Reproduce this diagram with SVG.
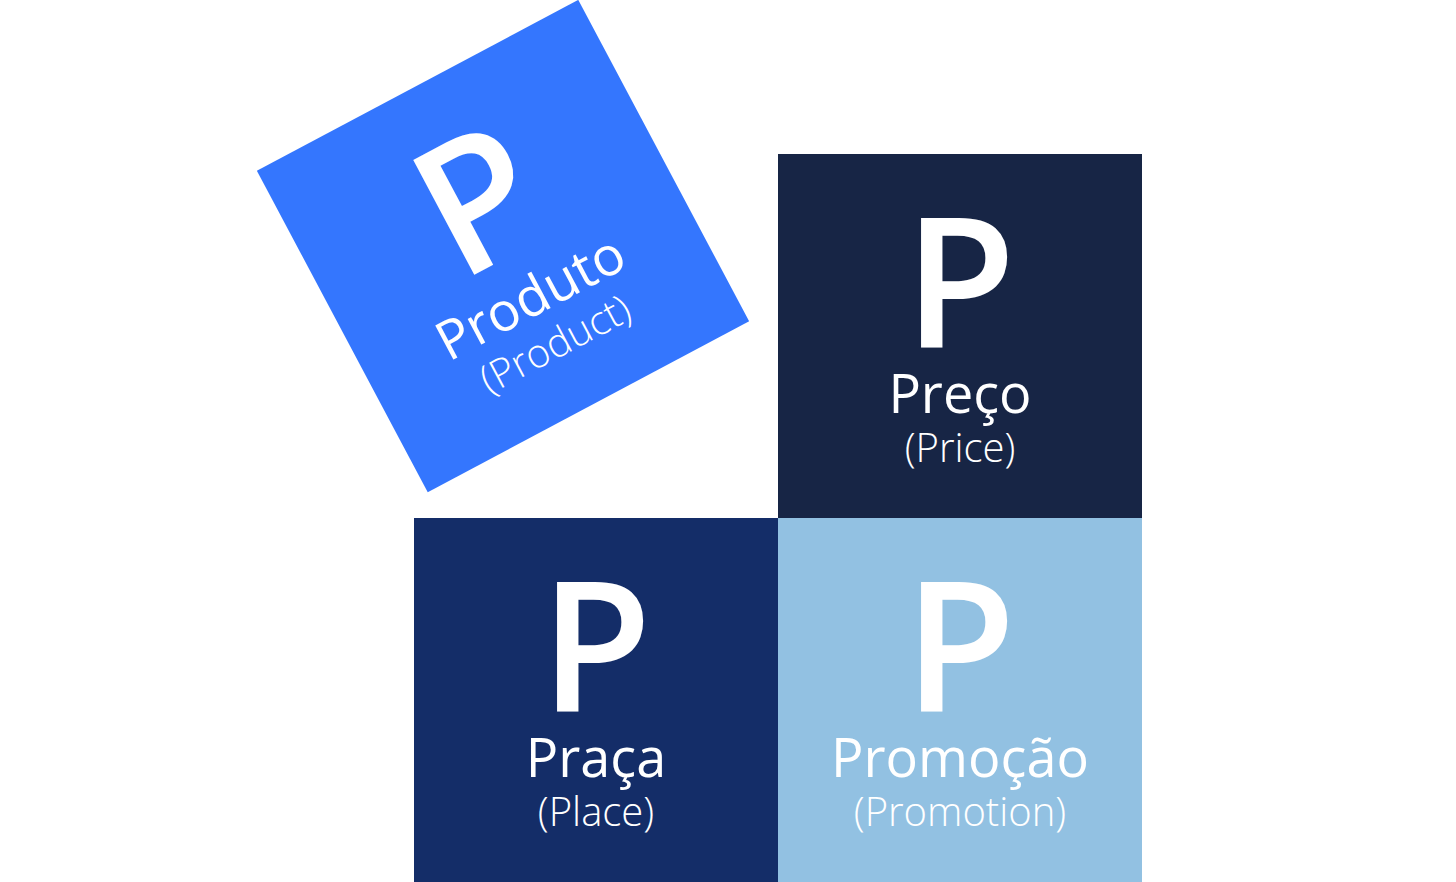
<svg xmlns="http://www.w3.org/2000/svg" width="1456" height="882" viewBox="0 0 1456 882">
<style>
text{font-family:"Open Sans","Noto Sans","Liberation Sans",sans-serif;fill:#ffffff;text-anchor:middle}
.big{font-size:182px;font-weight:600}
.name{font-size:54px;font-weight:500}
.en{font-size:40px;font-weight:300}
</style>
<rect width="1456" height="882" fill="#ffffff"/>
<g id="connectors"/>
<g id="produto" transform="translate(503,246) rotate(-28)">
<rect x="-182" y="-182" width="364" height="364" fill="#3476FE"/>
<text class="big" x="0" y="12">P</text>
<text class="name" x="0" y="77">Produto</text>
<text class="en" x="0" y="125">(Product)</text>
</g>
<g id="preco">
<rect x="778" y="154" width="364" height="364" fill="#172545"/>
<text class="big" x="960" y="348">P</text>
<text class="name" x="960" y="413">Preço</text>
<text class="en" x="960" y="462">(Price)</text>
</g>
<g id="praca">
<rect x="414" y="518" width="364" height="364" fill="#142D68"/>
<text class="big" x="596" y="712">P</text>
<text class="name" x="596" y="777">Praça</text>
<text class="en" x="596" y="826">(Place)</text>
</g>
<g id="promocao">
<rect x="778" y="518" width="364" height="364" fill="#92C1E2"/>
<text class="big" x="960" y="712">P</text>
<text class="name" x="960" y="777">Promoção</text>
<text class="en" x="960" y="826">(Promotion)</text>
</g>
</svg>
